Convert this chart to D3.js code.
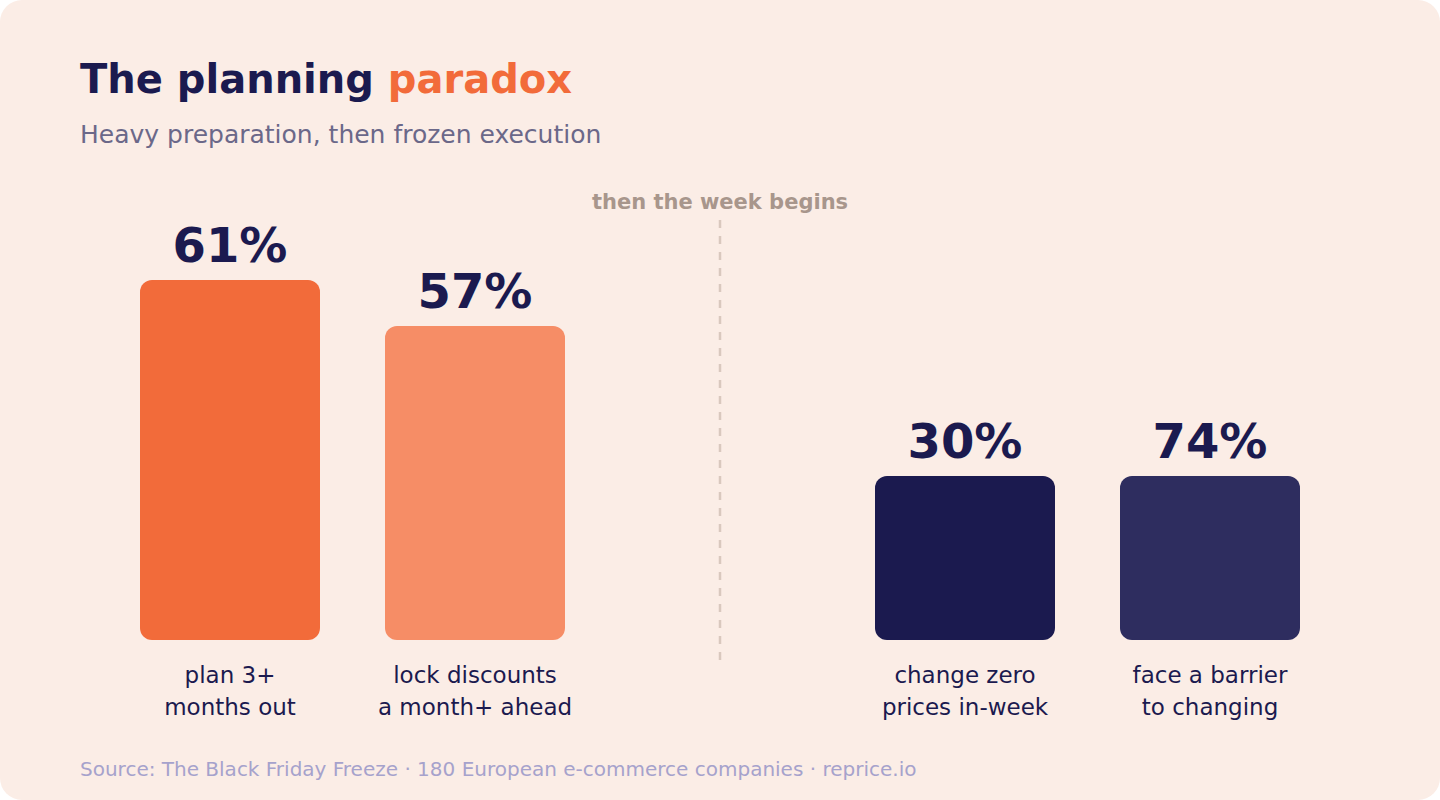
<html>
<head>
<script src="https://d3js.org/d3.v7.min.js"></script>
<style>
  body { margin: 0; background: #fff; }
  text { font-family: "DejaVu Sans", "Open Sans", sans-serif; }
</style>
</head>
<body>
<script>
// chart values
var labels = [["plan 3+", "months out"], ["lock discounts", "a month+ ahead"], ["change zero", "prices in-week"], ["face a barrier", "to changing"]];
var values = [61, 57, 30, 74];
// visual bar level as drawn in the source graphic (right pair drawn equal)
var levels = [61, 53.2, 27.8, 27.8];
var colors = ["#F26B3A", "#F68D66", "#1B1A4F", "#2E2D5F"];
var positions = [0, 1, 3, 4];

var width = 1440, height = 800;
var svg = d3.select("body").append("svg").attr("width", width).attr("height", height);

svg.append("rect").attr("width", width).attr("height", height).attr("rx", 22).attr("fill", "#FBEDE6");

var title = svg.append("text").attr("x", 80).attr("y", 93)
    .style("font-size", "40px").style("font-weight", "bold").attr("fill", "#1B1A4F");
title.append("tspan").text("The planning ");
title.append("tspan").attr("fill", "#F26B3A").text("paradox");

svg.append("text").attr("x", 80).attr("y", 143).style("font-size", "25px").attr("fill", "#6B6889")
    .text("Heavy preparation, then frozen execution");

var x = d3.scaleLinear().domain([0, 4]).range([140, 1120]);
var y = d3.scaleLinear().domain([0, 61]).range([640, 280]);
var bw = 180;

svg.selectAll("rect.bar").data(values).enter().append("rect")
    .attr("class", "bar")
    .attr("x", function (d, i) { return x(positions[i]); })
    .attr("y", function (d, i) { return y(levels[i]); })
    .attr("width", bw)
    .attr("height", function (d, i) { return y(0) - y(levels[i]); })
    .attr("rx", 12)
    .attr("fill", function (d, i) { return colors[i]; });

svg.selectAll("text.val").data(values).enter().append("text")
    .attr("x", function (d, i) { return x(positions[i]) + bw / 2; })
    .attr("y", function (d, i) { return y(levels[i]) - 18; })
    .attr("text-anchor", "middle")
    .style("font-size", "48px").style("font-weight", "bold").attr("fill", "#1B1A4F")
    .text(function (d) { return d + "%"; });

labels.forEach(function (l, i) {
    l.forEach(function (line, j) {
        svg.append("text")
            .attr("x", x(positions[i]) + bw / 2)
            .attr("y", 683 + j * 32)
            .attr("text-anchor", "middle")
            .style("font-size", "23px").attr("fill", "#1B1A4F")
            .text(line);
    });
});

svg.append("line").attr("x1", 720).attr("x2", 720).attr("y1", 220).attr("y2", 660)
    .attr("stroke", "#D9C8BE").attr("stroke-width", 2.5).attr("stroke-dasharray", "8,8");
svg.append("text").attr("x", 720).attr("y", 209).attr("text-anchor", "middle")
    .style("font-size", "21px").style("font-weight", "bold").attr("fill", "#A8968C")
    .text("then the week begins");

svg.append("text").attr("x", 80).attr("y", 776).style("font-size", "20px").attr("fill", "#A6A2CC")
    .text("Source: The Black Friday Freeze \u00b7 180 European e-commerce companies \u00b7 reprice.io");
</script>
</body>
</html>
